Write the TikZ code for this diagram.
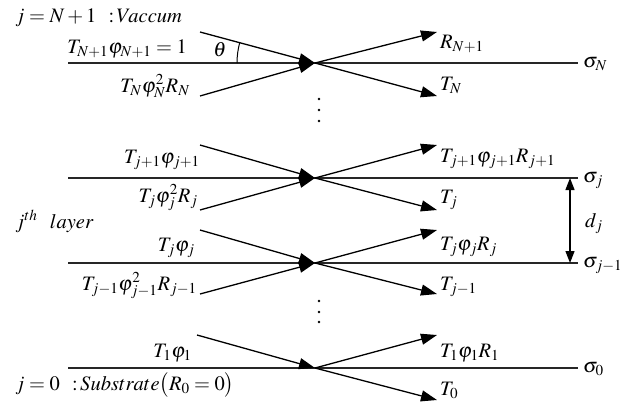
\documentclass[tikz,border=0pt]{standalone}
\usepackage{mathptmx}
\usetikzlibrary{arrows.meta}

\begin{document}
\begin{tikzpicture}[x=1pt,y=-1pt,line join=round,
    font=\fontsize{20.5}{24}\selectfont,
    iface/.style={line width=1.8pt,black!85},
    ray/.style={line width=1.3pt,-{Triangle[length=16pt,width=11pt]}},
    gap/.style={line width=1.3pt,{Triangle[length=12pt,width=9pt]}-{Triangle[length=12pt,width=9pt]}},
    lbl/.style={inner sep=0pt,anchor=base west},
    rlbl/.style={inner sep=0pt,anchor=base east}]
  % Match the original artwork frame.
  \useasboundingbox (0,0) rectangle (639,407);

  % Interfaces: left end, crossing point, right end.
  \coordinate (lN) at (68,63);   \coordinate (xN) at (315,63);   \coordinate (rN) at (578,63);
  \coordinate (lj) at (68,178);  \coordinate (xj) at (315,178);  \coordinate (rj) at (578,178);
  \coordinate (lk) at (68,263);  \coordinate (xk) at (315,263);  \coordinate (rk) at (578,263);
  \coordinate (l0) at (68,368);  \coordinate (x0) at (315,368);  \coordinate (r0) at (578,368);

  % Ray ends: incoming from above / below, outgoing reflected / transmitted.
  \coordinate (inN) at (200,32);   \coordinate (upN) at (200,96);
  \coordinate (rfN) at (437,32);   \coordinate (trN) at (437,96);
  \coordinate (inj) at (200,145);  \coordinate (upj) at (200,210);
  \coordinate (rfj) at (437,145);  \coordinate (trj) at (437,210);
  \coordinate (ink) at (200,230);  \coordinate (upk) at (200,294);
  \coordinate (rfk) at (437,230);  \coordinate (trk) at (437,294);
  \coordinate (in0) at (197,335);
  \coordinate (rf0) at (437,335);  \coordinate (tr0) at (437,400);

  % Interface lines.
  \draw[iface] (lN) -- (rN);
  \draw[iface] (lj) -- (rj);
  \draw[iface] (lk) -- (rk);
  \draw[iface] (l0) -- (r0);

  % Rays.
  \draw[ray] (inN) -- (xN);  \draw[ray] (upN) -- (xN);
  \draw[ray] (xN) -- (rfN);  \draw[ray] (xN) -- (trN);
  \draw[ray] (inj) -- (xj);  \draw[ray] (upj) -- (xj);
  \draw[ray] (xj) -- (rfj);  \draw[ray] (xj) -- (trj);
  \draw[ray] (ink) -- (xk);  \draw[ray] (upk) -- (xk);
  \draw[ray] (xk) -- (rfk);  \draw[ray] (xk) -- (trk);
  \draw[ray] (in0) -- (x0);
  \draw[ray] (x0) -- (rf0);  \draw[ray] (x0) -- (tr0);

  % Incidence angle.
  \draw[line width=1pt] (xN) ++(-78,0) arc[start angle=180,end angle=195.1,radius=78];
  \node (theta) at (220,50) {$\theta$};

  % Layer thickness.
  \coordinate (dtop) at (570,178);
  \coordinate (dbot) at (570,263);
  \draw[gap] (dtop) -- (dbot);
  \node[lbl] (dj) at (585,227) {$d_j$};

  % Omitted layers.
  \fill (319,99) circle[radius=1.3];
  \fill (319,110) circle[radius=1.3];
  \fill (319,121) circle[radius=1.3];
  \fill (319,301) circle[radius=1.3];
  \fill (319,312) circle[radius=1.3];
  \fill (319,322) circle[radius=1.3];

  % Left labels.
  \node[lbl] (vac) at (15,22) {$j = N + 1\ \ {:}\,Vaccum$};
  \node[rlbl] (aN) at (187,53) {$T_{N+1}\varphi_{N+1} = 1$};
  \node[rlbl] (bN) at (190,92) {$T_N\varphi_N^2R_N$};
  \node[rlbl] (aj) at (200,163) {$T_{j+1}\varphi_{j+1}$};
  \node[rlbl] (bj) at (198,202) {$T_j\varphi_j^2R_j$};
  \node[lbl] (layer) at (15,228) {$j^{th}\ \ layer$};
  \node[rlbl] (ak) at (195,251) {$T_j\varphi_j$};
  \node[rlbl] (bk) at (197,290) {$T_{j-1}\varphi_{j-1}^2R_{j-1}$};
  \node[rlbl] (a0) at (192,357) {$T_1\varphi_1$};
  \node[lbl] (sub) at (15,390) {$j = 0\ \ {:}\,Substrate\bigl(R_0 = 0\bigr)$};

  % Right labels.
  \node[lbl] (cN) at (440,48) {$R_{N+1}$};
  \node[lbl] (tN) at (440,90) {$T_N$};
  \node[lbl] (cj) at (440,162) {$T_{j+1}\varphi_{j+1}R_{j+1}$};
  \node[lbl] (tj) at (440,203) {$T_j$};
  \node[lbl] (ck) at (440,250) {$T_j\varphi_jR_j$};
  \node[lbl] (tk) at (440,290) {$T_{j-1}$};
  \node[lbl] (c0) at (440,357) {$T_1\varphi_1R_1$};
  \node[lbl] (t0) at (440,395) {$T_0$};

  % Interface names.
  \node[lbl] (sN) at (583,67) {$\sigma_N$};
  \node[lbl] (sj) at (583,182) {$\sigma_j$};
  \node[lbl] (sk) at (583,267) {$\sigma_{j-1}$};
  \node[lbl] (s0) at (583,372) {$\sigma_0$};
\end{tikzpicture}
\end{document}
